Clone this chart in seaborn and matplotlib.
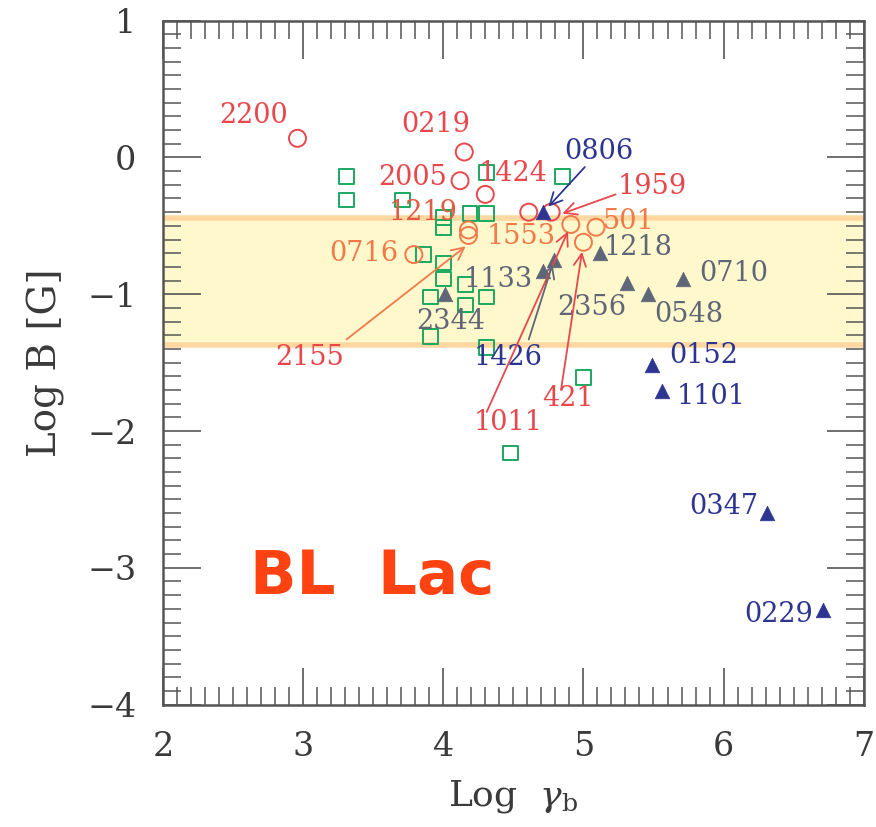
import matplotlib
matplotlib.use("Agg")
import matplotlib.pyplot as plt
import seaborn as sns
import pandas as pd
from matplotlib.ticker import MultipleLocator

# ---- data (Log gamma_b, Log B) ----
red_circ_x = [2.96, 4.15, 4.12, 4.30, 4.61, 4.77]
red_circ_y = [0.14, 0.04, -0.17, -0.27, -0.40, -0.40]
org_circ_x = [3.79, 4.18, 4.18, 4.91, 5.09, 5.00]
org_circ_y = [-0.71, -0.53, -0.57, -0.49, -0.51, -0.62]
green_sq_x = [3.31, 3.31, 3.71, 4.31, 4.85, 4.19, 4.31, 4.00, 4.00, 3.86,
              4.00, 4.00, 3.91, 4.16, 4.31, 4.16, 3.91, 4.31, 4.48, 5.00]
green_sq_y = [-0.14, -0.31, -0.31, -0.11, -0.14, -0.41, -0.41, -0.44, -0.51, -0.71,
              -0.77, -0.89, -1.02, -0.93, -1.02, -1.08, -1.31, -1.39, -2.16, -1.61]
gray_tri_x = [4.01, 4.71, 4.79, 5.12, 5.31, 5.46, 5.71]
gray_tri_y = [-1.00, -0.83, -0.75, -0.70, -0.92, -1.00, -0.89]
blue_tri_x = [4.71, 5.49, 5.56, 6.31, 6.71]
blue_tri_y = [-0.40, -1.52, -1.71, -2.60, -3.31]
band_low, band_high = -1.37, -0.44

RED = "#e8474c"
ORANGE = "#f07a4a"
GREEN = "#1aa860"
GRAY = "#5f6678"
BLUE = "#2d3590"

sns.set_style("ticks")
plt.rcParams["font.family"] = ["DejaVu Serif", "DejaVu Sans"]
plt.rcParams["mathtext.fontset"] = "dejavuserif"

fig = plt.figure(figsize=(8.76, 8.27), dpi=100)
ax = fig.add_axes([0.186, 0.148, 0.80, 0.827])

ax.axhspan(band_low, band_high, facecolor="#fff8cc", edgecolor="none", zorder=0)
ax.axhline(band_low, color="#ffd7a0", lw=4, zorder=0.5)
ax.axhline(band_high, color="#ffd7a0", lw=4, zorder=0.5)

def scat(x, y, marker, color, s, filled):
    df = pd.DataFrame({"x": x, "y": y})
    if filled:
        sns.scatterplot(data=df, x="x", y="y", marker=marker, color=color, s=s,
                        edgecolor=color, linewidth=0.5, ax=ax, zorder=3, legend=False)
    else:
        sns.scatterplot(data=df, x="x", y="y", marker=marker, s=s, facecolor="none",
                        edgecolor=color, linewidth=1.4, ax=ax, zorder=3, legend=False)

scat(green_sq_x, green_sq_y, "s", GREEN, 110, False)
scat(red_circ_x, red_circ_y, "o", RED, 150, False)
scat(org_circ_x, org_circ_y, "o", ORANGE, 150, False)
scat(gray_tri_x, gray_tri_y, "^", GRAY, 110, True)
scat(blue_tri_x, blue_tri_y, "^", BLUE, 110, True)

labels = [
    ("2200", 2.65, 0.31, RED), ("0219", 3.95, 0.24, RED), ("2005", 3.78, -0.15, RED),
    ("1424", 4.50, -0.12, RED), ("0806", 5.11, 0.04, BLUE), ("1959", 5.49, -0.21, RED),
    ("1219", 3.86, -0.40, "#e55a42"), ("501", 5.32, -0.47, ORANGE), ("1553", 4.56, -0.58, ORANGE),
    ("0716", 3.43, -0.70, ORANGE), ("1218", 5.39, -0.66, GRAY), ("1133", 4.39, -0.89, GRAY),
    ("0710", 6.07, -0.85, GRAY), ("2356", 5.06, -1.10, GRAY), ("0548", 5.75, -1.15, GRAY),
    ("2344", 4.05, -1.20, GRAY), ("2155", 3.05, -1.46, RED), ("1426", 4.46, -1.46, BLUE),
    ("0152", 5.86, -1.45, BLUE), ("1101", 5.91, -1.75, BLUE), ("421", 4.89, -1.76, RED),
    ("1011", 4.46, -1.94, RED), ("0347", 6.00, -2.55, BLUE), ("0229", 6.39, -3.34, BLUE),
]
for t, x, y, c in labels:
    ax.text(x, y, t, color=c, fontsize=19.5, ha="center", va="center", zorder=4)

arrows = [
    ((5.01, -0.07), (4.75, -0.36), BLUE),
    ((5.23, -0.27), (4.85, -0.41), RED),
    ((3.31, -1.33), (4.16, -0.65), ORANGE),
    ((4.31, -1.86), (4.89, -0.54), RED),
    ((4.84, -1.70), (4.99, -0.69), RED),
    ((4.61, -1.33), (4.78, -0.78), GRAY),
]
for (x0, y0), (x1, y1), c in arrows:
    ax.annotate("", xy=(x1, y1), xytext=(x0, y0),
                arrowprops=dict(arrowstyle="->", color=c, lw=1.3, mutation_scale=22,
                                shrinkA=0, shrinkB=0), zorder=4)

ax.text(3.49, -3.07, "BL  Lac", color="#ff4212", fontsize=44, fontweight="bold",
        family=["DejaVu Sans"], ha="center", va="center")

ax.set_xlim(2, 7)
ax.set_ylim(-4, 1)
ax.xaxis.set_major_locator(MultipleLocator(1))
ax.yaxis.set_major_locator(MultipleLocator(1))
ax.xaxis.set_minor_locator(MultipleLocator(0.1))
ax.yaxis.set_minor_locator(MultipleLocator(0.1))
ax.tick_params(which="both", direction="in", top=True, right=True, color="#555555",
               labelsize=24, labelcolor="#3a3a3a")
ax.tick_params(which="major", length=27, width=1.2, pad=19)
ax.tick_params(which="minor", length=13, width=1.1)
for sp in ax.spines.values():
    sp.set_linewidth(1.8)
    sp.set_color("#555555")

ax.set_xlabel(r"Log  $\gamma_{\rm b}$", fontsize=26, color="#3a3a3a", labelpad=11)
ax.set_ylabel("Log B [G]", fontsize=28, color="#3a3a3a", labelpad=16)

fig.savefig("out.png", dpi=100)
